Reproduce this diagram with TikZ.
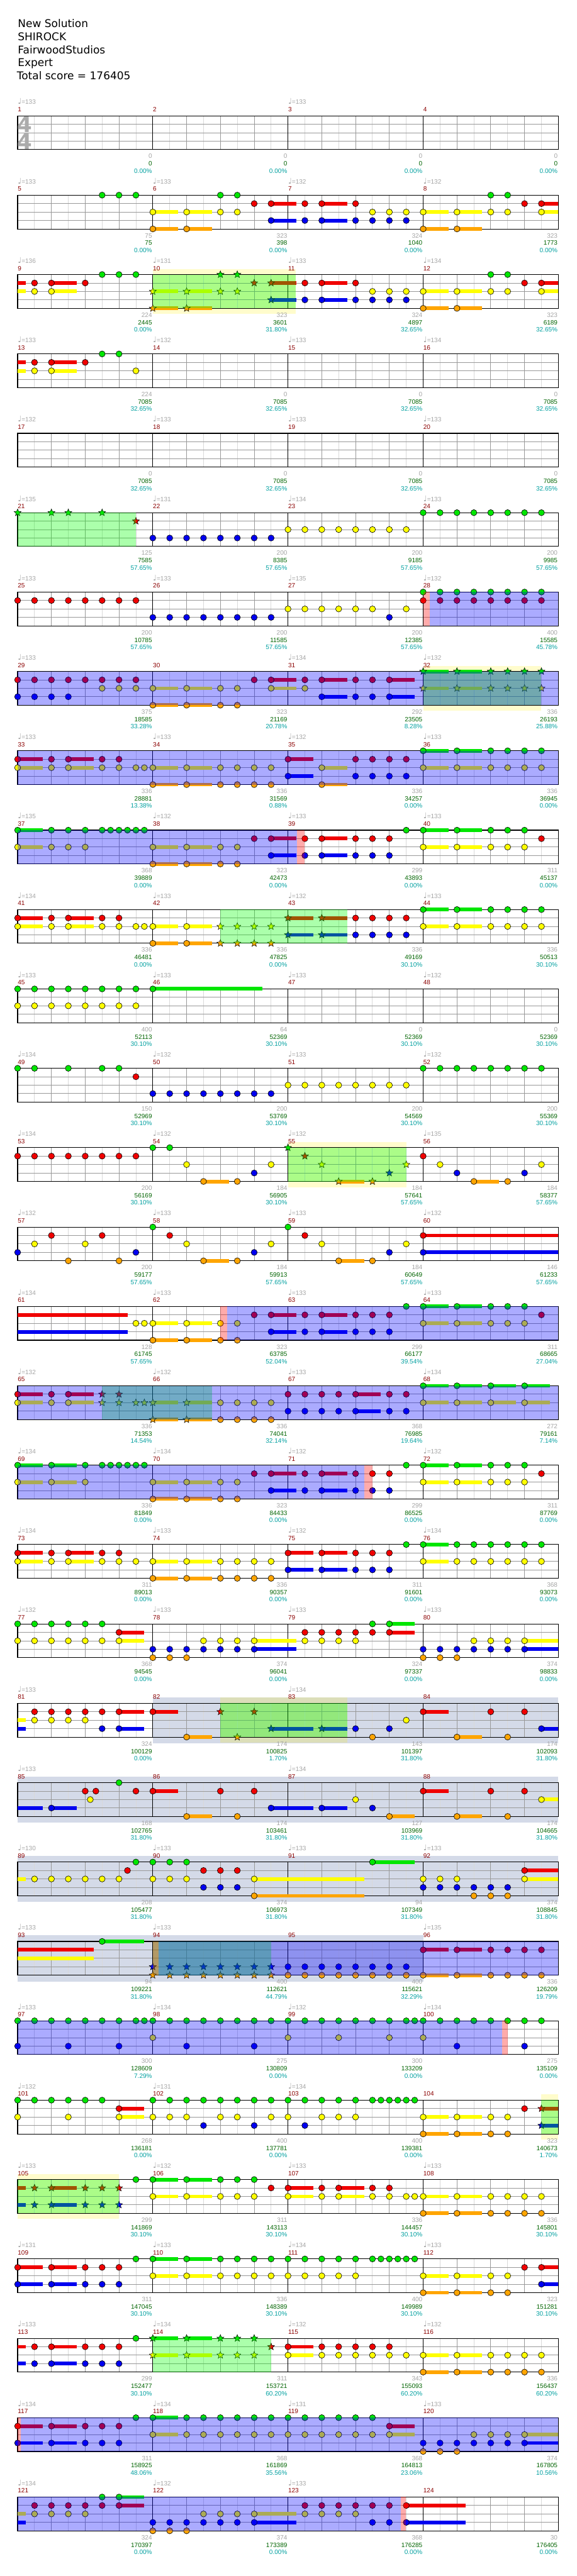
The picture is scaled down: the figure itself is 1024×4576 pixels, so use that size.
\documentclass[tikz,border=0pt]{standalone}
\usepackage{fontspec}
\setmainfont{DejaVu Sans}
\newfontfamily\labfont{Liberation Sans}
\usetikzlibrary{shapes.geometric}

\definecolor{lane0}{RGB}{0,230,0}
\definecolor{lane1}{RGB}{240,0,0}
\definecolor{lane2}{RGB}{255,255,0}
\definecolor{lane3}{RGB}{0,0,240}
\definecolor{lane4}{RGB}{255,165,0}
\definecolor{barnum}{RGB}{139,0,0}
\definecolor{softgray}{RGB}{165,165,165}
\definecolor{scoregreen}{RGB}{0,100,0}
\definecolor{pctteal}{RGB}{0,160,160}
\definecolor{solo}{RGB}{212,218,232}

% position of eighth #2 in measure #1
\newcommand\notept[2]{%
  \pgfmathsetmacro\px{31.3+240*mod(#1-1,4)+30*#2}%
  \pgfmathsetmacro\py{205.7+141*floor((#1-1)/4)}}
\newcommand\hit[2]{\foreach \e/\l in {#2}{\notept{#1}{\e}\node[note,fill=lane\l] at (\px,\py+15*\l) {};}}
\newcommand\run[4]{\foreach \e in {#3,...,#4}{\notept{#1}{\e}\node[note,fill=lane#2] at (\px,\py+15*#2) {};}}
\newcommand\hold[2]{\foreach \e/\l/\s in {#2}{\notept{#1}{\e}%
  \fill[lane\l] (\px,\py+15*\l-3.3) rectangle ++(30*\s,6.6);
  \node[note,fill=lane\l] at (\px,\py+15*\l) {};}}
\newcommand\tailbar[2]{\foreach \e/\l/\s in {#2}{\notept{#1}{\e}%
  \fill[lane\l] (\px,\py+15*\l-3.3) rectangle ++(30*\s,6.6);}}
\newcommand\sphit[2]{\foreach \e/\l in {#2}{\notept{#1}{\e}\node[spnote,fill=lane\l] at (\px,\py+15*\l) {};}}
\newcommand\sphold[2]{\foreach \e/\l/\s in {#2}{\notept{#1}{\e}%
  \fill[lane\l] (\px,\py+15*\l-3.3) rectangle ++(30*\s,6.6);
  \node[spnote,fill=lane\l] at (\px,\py+15*\l) {};}}
% style, row, x from, x to, extra height
\newcommand\zone[5]{\pgfmathsetmacro\py{205.7+141*#2}\fill[#1] (#3,\py-#5) rectangle (#4,\py+60+#5);}

\begin{document}
\begin{tikzpicture}[x=0.5pt, y=-0.5pt,
    note/.style={circle, draw=black, line width=0.35pt, minimum size=5.4pt, inner sep=0pt},
    spnote/.style={star, star points=5, star point ratio=2.3, draw=black, line width=0.3pt, minimum size=6.6pt, inner sep=0pt},
    halfln/.style={black!15, line width=0.5pt},
    beatln/.style={black!40, line width=0.5pt},
    barln/.style={black, line width=0.6pt},
    lab/.style={font=\labfont\fontsize{5.6}{6}\selectfont, inner sep=0pt},
    spzone/.style={fill=green, fill opacity=0.33},
    spband/.style={fill=yellow, fill opacity=0.2},
    actzone/.style={fill=blue, fill opacity=0.33},
    pinkzone/.style={fill=red, fill opacity=0.33},
    solozone/.style={fill=solo}]

\fill[white] (0,0) rectangle (1024,4576);
\useasboundingbox (0,0) rectangle (1024,4576);

\begin{scope}[font=\fontsize{9.5}{11}\selectfont, anchor=base west, inner sep=0pt]
  \node at (31.3,49) {New Solution};
  \node at (31.3,72) {SHIROCK};
  \node at (31.3,95.7) {FairwoodStudios};
  \node at (31.3,118.3) {Expert};
  \node at (29.5,141.7) {Total score = 176405};
\end{scope}

\zone{solozone}{20}{271.3}{991.3}{11}
\zone{solozone}{21}{31.3}{991.3}{11}
\zone{solozone}{22}{31.3}{991.3}{11}
\zone{solozone}{23}{31.3}{751.3}{11}
\zone{spband}{2}{271.3}{525.3}{10}
\zone{spband}{7}{751.3}{961.3}{10}
\zone{spband}{13}{511.3}{721.3}{10}
\zone{spband}{20}{391.3}{616.3}{10}
\zone{spband}{25}{961.3}{991.3}{10}
\zone{spband}{26}{31.3}{211.3}{10}

\foreach \r in {0,...,30}{
  \pgfmathsetmacro\py{205.7+141*\r}
  \foreach \k in {1,3,...,31} \draw[halfln] (31.3+30*\k,\py) -- ++(0,60);
  \foreach \k in {2,4,6,10,12,14,18,20,22,26,28,30} \draw[beatln] (31.3+30*\k,\py) -- ++(0,60);
  \foreach \l in {1,2,3} \draw[beatln] (31.3,\py+15*\l) -- ++(960,0);
  \foreach \k in {8,16,24} \draw[barln] (31.3+30*\k,\py) -- ++(0,60);
  \draw[barln] (31.3,\py) rectangle (991.3,\py+60);
}
\node[font=\fontsize{19}{19}\selectfont\bfseries, text=black!33] at (44,221) {4};
\node[font=\fontsize{19}{19}\selectfont\bfseries, text=black!33] at (44,251) {4};

% notes
\hit{5}{5/0,6/0,7/0}
\hold{6}{0/2/1.5,2/2/1.5,0/4/1.5,2/4/1.5,7/1/1.5,7/3/1.5}
\hit{6}{4/0,5/0,4/2,5/2,6/1}
\hold{7}{2/1/1.5,2/3/1.5}
\hit{7}{1/1,4/1,5/2,6/2,7/2,1/3,4/3,5/3,6/3,7/3}
\hold{8}{0/2/1.5,2/2/1.5,0/4/1.5,2/4/1.5,7/1/1,7/2/1}
\hit{8}{4/0,5/0,4/2,5/2,6/1}

\tailbar{9}{0/1/0.5,0/2/0.5}
\hold{9}{2/1/1.5,2/2/1.5}
\hit{9}{1/1,4/1,1/2,5/0,6/0,7/0}
\sphold{10}{0/2/1.5,0/4/1.5,2/2/1.5,2/4/1.5,7/1/1.5,7/3/1.5}
\sphit{10}{4/0,5/0,4/2,5/2,6/1}
\hold{11}{2/1/1.5,2/3/1.5}
\hit{11}{1/1,4/1,5/2,6/2,7/2,1/3,4/3,5/3,6/3,7/3}
\hold{12}{0/2/1.5,2/2/1.5,0/4/1.5,2/4/1.5,7/1/1,7/2/1}
\hit{12}{4/0,5/0,4/2,5/2,6/1}

\tailbar{13}{0/1/0.5,0/2/0.5}
\hold{13}{2/1/1.5,2/2/1.5}
\hit{13}{1/1,4/1,1/2,5/0,6/0,7/2}

\sphit{21}{0/0,2/0,3/0,5/0,7/1}
\run{22}{3}{0}{7}
\run{23}{2}{0}{7}
\run{24}{0}{0}{7}

\run{25}{1}{0}{7}
\run{26}{3}{0}{7}
\run{27}{2}{0}{5}
\hit{27}{6/3,7/2}
\run{28}{0}{0}{7}
\run{28}{1}{0}{7}

\run{29}{1}{0}{7}
\run{29}{3}{0}{3}
\hit{29}{5/2,6/2,7/2}
\hold{30}{0/2/1.5,2/2/1.5,0/4/1.5,2/4/1.5,7/1/1.5,7/2/1.5}
\hit{30}{4/2,5/2,4/4,5/4,6/1}
\hold{31}{2/1/1.5,6/1/1.5,2/3/1.5,6/3/1.5}
\hit{31}{1/1,4/1,5/1,1/2,4/3,5/3}
\sphold{32}{0/0/1.5,2/0/1.5,0/2/1.5,2/2/1.5}
\sphit{32}{4/0,5/0,6/0,7/0,4/2,5/2,6/2,7/2}

\hold{33}{0/1/1.5,3/1/1.5,0/2/1.5,3/2/1.5}
\hit{33}{2/1,5/1,6/1,2/2,5/2,6/2,7/2,7.5/2}
\hold{34}{0/2/1.5,2/2/1.5,0/4/1.5,2/4/1.5}
\hit{34}{4/2,5/2,6/2,7/2,4/4,5/4,6/4,7/4}
\hold{35}{0/1/1.5,0/3/1.5,2/2/1.5,2/4/1.5}
\hit{35}{4/1,5/1,6/1,7/1,4/3,5/3,6/3,7/3}
\hold{36}{0/0/1.5,2/0/1.5,0/2/1.5,2/2/1.5}
\hit{36}{4/0,5/0,6/0,7/0,4/2,5/2,6/2,7/2}

\hold{37}{0/0/1.5,0/2/1.5}
\hit{37}{2/0,3/0,4/0,5/0,5.5/0,6/0,6.5/0,7/0,7.5/0,2/2,3/2,4/2}
\hold{38}{0/2/1.5,2/2/1.5,0/4/1.5,2/4/1.5,7/1/1.5,7/3/1.5}
\hit{38}{4/2,5/2,4/4,5/4,6/1}
\hold{39}{2/1/1.5,2/3/1.5}
\hit{39}{1/1,4/1,5/1,6/1,1/3,4/3,5/3,6/3,7/0}
\hold{40}{0/0/1.5,2/0/1.5,0/2/1.5,2/2/1.5}
\hit{40}{4/0,5/0,6/0,4/2,5/2,6/2,7/1}

\hold{41}{0/1/1.5,3/1/1.5,0/2/1.5,3/2/1.5}
\hit{41}{2/1,5/1,6/1,2/2,5/2,6/2,7/2,7.5/2}
\hold{42}{0/2/1.5,2/2/1.5,0/4/1.5,2/4/1.5}
\sphit{42}{4/2,5/2,6/2,7/2,4/4,5/4,6/4,7/4}
\sphold{43}{0/1/1.5,2/1/1.5,0/3/1.5,2/3/1.5}
\hit{43}{4/1,5/1,6/1,7/1,4/3,5/3,6/3,7/3}
\hold{44}{0/0/1.5,2/0/1.5,0/2/1.5,2/2/1.5}
\hit{44}{4/0,5/0,6/0,7/0,4/2,5/2,6/2,7/2}

\run{45}{0}{0}{7}
\run{45}{2}{0}{7}
\hold{46}{0/0/6.5}

\hit{49}{0/0,1/0,3/0,5/0,6/0,7/1}
\run{50}{3}{0}{7}
\run{51}{2}{0}{7}
\run{52}{0}{0}{7}

\run{53}{1}{0}{7}
\hold{54}{3/4/1.5}
\hit{54}{0/0,1/0,2/2,5/4,6/3,7/2}
\sphold{55}{3/4/1.5}
\sphit{55}{0/0,1/1,2/2,5/4,6/3,7/2}
\hold{56}{3/4/1.5}
\hit{56}{0/1,1/2,2/3,5/4,6/3,7/2}

\hit{57}{0/3,1/2,2/1,3/4,4/2,5/1,6/4,7/3}
\hold{58}{3/4/1.5}
\hit{58}{0/0,1/1,2/2,5/4,6/3,7/2}
\hold{59}{3/4/1.5}
\hit{59}{0/0,1/1,2/2,5/4,6/3,7/2}
\hold{60}{0/1/8,0/3/8}

\tailbar{61}{0/1/6.5,0/3/6.5}
\hit{61}{7/2,7.5/2}
\hold{62}{0/2/1.5,2/2/1.5,0/4/1.5,2/4/1.5,7/1/1.5,7/3/1.5}
\hit{62}{4/2,5/2,4/4,5/4,6/1}
\hold{63}{2/1/1.5,2/3/1.5}
\hit{63}{1/1,4/1,5/1,6/1,1/3,4/3,5/3,6/3,7/0}
\hold{64}{0/0/1.5,2/0/1.5,0/2/1.5,2/2/1.5}
\hit{64}{4/0,5/0,6/0,4/2,5/2,6/2,7/1}

\hold{65}{0/1/1.5,3/1/1.5,0/2/1.5,3/2/1.5}
\hit{65}{2/1,2/2}
\sphit{65}{5/1,6/1,5/2,6/2,7/2,7.5/2}
\sphold{66}{0/2/1.5,2/2/1.5,0/4/1.5,2/4/1.5}
\hit{66}{4/2,5/2,6/2,7/2,4/4,5/4,6/4,7/4}
\hold{67}{4/1/1.5,4/3/1.5}
\hit{67}{0/1,1/1,2/1,3/1,6/1,7/1,0/3,1/3,2/3,3/3,6/3,7/3}
\hold{68}{0/0/1.5,2/0/1.5,4/0/1.5,6/0/1.5,0/2/1.5,2/2/1.5,4/2/1.5,6/2/1.5}

\hold{69}{0/0/1.5,2/0/1.5,0/2/1.5,2/2/1.5}
\hit{69}{4/0,5/0,5.5/0,6/0,6.5/0,7/0,7.5/0,4/2}
\hold{70}{0/2/1.5,2/2/1.5,0/4/1.5,2/4/1.5,7/1/1.5,7/3/1.5}
\hit{70}{4/2,5/2,4/4,5/4,6/1}
\hold{71}{2/1/1.5,2/3/1.5}
\hit{71}{1/1,4/1,5/1,6/1,1/3,4/3,5/3,6/3,7/0}
\hold{72}{0/0/1.5,2/0/1.5,0/2/1.5,2/2/1.5}
\hit{72}{4/0,5/0,6/0,4/2,5/2,6/2,7/1}

\hold{73}{0/1/1.5,3/1/1.5,0/2/1.5,3/2/1.5}
\hit{73}{2/1,5/1,6/1,2/2,5/2,6/2,7/2}
\hold{74}{0/2/1.5,2/2/1.5,0/4/1.5,2/4/1.5}
\hit{74}{4/2,5/2,6/2,7/2,4/4,5/4,6/4,7/4}
\hold{75}{0/1/1.5,2/1/1.5,0/3/1.5,2/3/1.5}
\hit{75}{4/1,5/1,6/1,4/3,5/3,6/3,7/0}
\hold{76}{0/0/1.5,0/2/1.5}
\hit{76}{2/0,3/0,4/0,5/0,6/0,7/0,2/2,3/2,4/2,5/2,6/2,7/2}

\run{77}{0}{0}{5}
\run{77}{2}{0}{5}
\hold{77}{6/1/1.5,6/2/1.5}
\run{78}{3}{0}{5}
\run{78}{4}{0}{2}
\run{78}{2}{3}{5}
\hold{78}{6/3/2.5,6/2/2.5}
\run{79}{1}{1}{5}
\run{79}{2}{1}{4}
\hit{79}{5/0}
\hold{79}{6/1/1.5,6/0/1.5}
\run{80}{3}{0}{5}
\run{80}{4}{0}{2}
\run{80}{2}{3}{5}
\hold{80}{6/3/2,6/2/2}

\tailbar{81}{0/2/0.5,0/3/0.5}
\run{81}{1}{1}{5}
\run{81}{2}{1}{4}
\hit{81}{5/3}
\hold{81}{6/1/1.5,6/3/1.5}
\hold{82}{0/1/1.5,2/4/1.5}
\sphit{82}{4/1,5/4,6/1}
\sphold{82}{7/3/2.5}
\sphold{83}{2/3/1.5}
\hit{83}{4/3,5/4,6/3,7/2}
\hold{84}{0/1/1.5,2/4/1.5,7/3/1}
\hit{84}{4/1,5/4,6/1}

\tailbar{85}{0/3/1.5}
\hold{85}{2/3/1.5}
\hit{85}{4/1,4.63/1,4.3/2,6/0,7/1}
\hold{86}{0/1/1.5,2/4/1.5,7/3/2.5}
\hit{86}{4/1,5/4,6/1}
\hold{87}{2/3/1.5,6/4/1.5}
\hit{87}{4/2,5/3}
\hold{88}{0/1/1.5,2/4/1.5,7/2/1}
\hit{88}{4/1,5/4,6/1}

\tailbar{89}{0/2/0.5}
\run{89}{2}{1}{6}
\hit{89}{6.5/1,7/0}
\run{90}{0}{0}{2}
\run{90}{2}{0}{2}
\run{90}{1}{3}{5}
\run{90}{3}{3}{5}
\hold{90}{6/2/6.5,6/4/6.5}
\hold{91}{5/0/2.5}
\run{92}{2}{0}{2}
\run{92}{3}{0}{5}
\run{92}{4}{3}{5}
\hold{92}{6/1/2,6/2/2}

\tailbar{93}{0/1/4.5,0/2/4.5}
\hold{93}{5/0/2.5}
\sphit{94}{0/3,1/3,2/3,3/3,4/3,5/3,6/3,7/3,0/4,1/4,2/4,3/4,4/4,5/4,6/4,7/4}
\run{95}{3}{0}{7}
\run{95}{4}{0}{7}
\hold{96}{0/1/1.5,2/1/1.5,0/4/1.5,2/4/1.5}
\hit{96}{4/1,5/1,6/1,7/1,4/4,5/4,6/4,7/4}

\run{97}{0}{0}{7}
\hit{97}{7.5/0,0/3,3/3,6/3}
\run{98}{0}{0}{7}
\hit{98}{0/2,2/3,6/3}
\run{99}{0}{0}{7}
\hit{99}{7.5/0,0/2,3/2,6/2}
\run{100}{0}{0}{7}
\hit{100}{0/2,2/3,6/3}

\run{101}{0}{0}{5}
\hit{101}{0/2,3/2}
\hold{101}{6/1/1.5,6/2/1.5}
\run{102}{0}{0}{7}
\hit{102}{0/2,1/2,2/2,4/2,5/2,7/2,3/3,6/3}
\run{103}{0}{0}{7}
\hit{103}{5.5/0,6.5/0,7.5/0,0/2,2/2,3/2,4/2,1/3}
\hold{104}{0/2/1.5,2/2/1.5,0/4/1.5,2/4/1.5}
\hit{104}{4/2,5/2,4/4,5/4,6/1}
\sphold{104}{7/1/1,7/3/1}

\tailbar{105}{0/1/0.5,0/3/0.5}
\sphold{105}{2/1/1.5,2/3/1.5}
\sphit{105}{1/1,4/1,5/1,6/1,1/3,4/3,5/3,6/3}
\hit{105}{7/0}
\hold{106}{0/0/1.5,2/0/1.5,0/2/1.5,2/2/1.5}
\hit{106}{4/0,5/0,6/0,4/2,5/2,6/2,7/1}
\hold{107}{0/1/1.5,3/1/1.5,0/2/1.5,3/2/1.5}
\hit{107}{2/1,5/1,6/1,2/2,5/2,6/2,7/2,7.5/2}
\hold{108}{0/2/1.5,2/2/1.5,0/4/1.5,2/4/1.5}
\hit{108}{4/2,5/2,6/2,7/2,4/4,5/4,6/4,7/4}

\hold{109}{0/1/1.5,2/1/1.5,0/3/1.5,2/3/1.5}
\hit{109}{4/1,5/1,6/1,4/3,5/3,6/3,7/0}
\hold{110}{0/0/1.5,2/0/1.5,0/2/1.5,2/2/1.5}
\hit{110}{4/0,5/0,6/0,7/0,4/2,5/2,6/2,7/2}
\run{111}{0}{0}{7}
\hit{111}{5.5/0,6.5/0,7.5/0}
\run{111}{2}{0}{4}
\hold{112}{0/2/1.5,2/2/1.5,0/4/1.5,2/4/1.5,7/1/1,7/3/1}
\hit{112}{4/2,5/2,4/4,5/4,6/1}

\tailbar{113}{0/1/0.5,0/3/0.5}
\hold{113}{2/1/1.5,2/3/1.5}
\hit{113}{1/1,4/1,5/1,6/1,1/3,4/3,5/3,6/3,7/0}
\sphold{114}{0/0/1.5,2/0/1.5,0/2/1.5,2/2/1.5}
\sphit{114}{4/0,5/0,6/0,4/2,5/2,6/2,7/1}
\hold{115}{0/1/1.5,0/2/1.5}
\hit{115}{2/1,3/1,4/1,5/1,6/1,2/2,3/2,4/2,5/2,6/2,7/2}
\hold{116}{0/2/1.5,2/2/1.5,0/4/1.5,2/4/1.5}
\hit{116}{4/2,5/2,6/2,7/2,4/4,5/4,6/4,7/4}

\hold{117}{0/1/1.5,2/1/1.5,0/3/1.5,2/3/1.5}
\hit{117}{4/1,5/1,6/1,4/3,5/3,6/3,7/0}
\hold{118}{0/0/1.5,0/2/1.5}
\hit{118}{2/0,3/0,4/0,5/0,6/0,7/0,2/2,3/2,4/2,5/2,6/2,7/2}
\run{119}{0}{0}{5}
\run{119}{2}{0}{5}
\hold{119}{6/1/1.5,6/2/1.5}
\run{120}{3}{0}{5}
\run{120}{4}{0}{2}
\run{120}{2}{3}{5}
\hold{120}{6/3/2,6/2/2}

\tailbar{121}{0/2/0.5,0/3/0.5}
\run{121}{1}{1}{5}
\run{121}{2}{1}{4}
\hit{121}{5/0}
\hold{121}{6/1/1.5,6/0/1.5}
\run{122}{3}{0}{5}
\run{122}{4}{0}{2}
\run{122}{2}{3}{5}
\hold{122}{6/3/2.5,6/2/2.5}
\run{123}{1}{1}{6}
\run{123}{2}{1}{4}
\hit{123}{5/3,6/3}
\hold{123}{7/1/3.5,7/3/3.5}

% star power and activation
\zone{spzone}{2}{271.3}{525.3}{0}
\zone{spzone}{5}{31.3}{241.3}{0}
\zone{spzone}{7}{751.3}{961.3}{0}
\zone{spzone}{10}{391.3}{616.3}{0}
\zone{spzone}{13}{511.3}{721.3}{0}
\zone{spzone}{16}{181.3}{376.3}{0}
\zone{spzone}{20}{391.3}{616.3}{0}
\zone{spzone}{23}{271.3}{481.3}{0}
\zone{spzone}{25}{961.3}{991.3}{0}
\zone{spzone}{26}{31.3}{211.3}{0}
\zone{spzone}{28}{271.3}{481.3}{0}

\zone{actzone}{6}{763}{991.3}{0}
\zone{actzone}{7}{31.3}{991.3}{0}
\zone{actzone}{8}{31.3}{991.3}{0}
\zone{actzone}{9}{31.3}{527}{0}
\zone{actzone}{15}{403}{991.3}{0}
\zone{actzone}{16}{31.3}{991.3}{0}
\zone{actzone}{17}{31.3}{647}{0}
\zone{actzone}{23}{281}{991.3}{0}
\zone{actzone}{24}{31.3}{891}{0}
\zone{actzone}{29}{37}{991.3}{0}
\zone{actzone}{30}{31.3}{712}{0}

\zone{pinkzone}{6}{751.3}{763}{0}
\zone{pinkzone}{9}{527}{541}{0}
\zone{pinkzone}{15}{391.3}{403}{0}
\zone{pinkzone}{17}{647}{661}{0}
\zone{pinkzone}{23}{271.3}{281}{0}
\zone{pinkzone}{24}{891}{901}{0}
\zone{pinkzone}{29}{31.3}{37}{0}
\zone{pinkzone}{30}{712}{721}{0}

% labels
\foreach \m in {1,...,124}{
  \notept{\m}{0}
  \node[lab, text=barnum, anchor=base west] at (\px,\py-7.3) {\m};
}
\foreach \m/\t in {1/133,3/133,5/133,6/133,7/132,8/132,9/136,10/131,11/133,12/134,13/133,14/132,15/133,16/134,
    17/132,18/133,19/133,20/133,21/135,22/131,23/134,24/133,25/133,26/133,27/135,28/132,29/133,31/134,32/132,
    33/133,34/133,35/132,36/133,37/135,38/132,39/133,40/133,41/134,42/133,43/132,44/133,45/133,46/133,47/133,48/132,
    49/134,50/132,51/133,52/132,53/134,54/132,55/132,56/135,57/132,58/133,59/133,60/132,61/134,62/133,63/133,64/133,
    65/132,66/132,67/133,68/134,69/134,70/134,71/132,72/132,73/134,74/133,75/132,76/134,77/132,78/133,79/133,80/133,
    81/133,83/134,85/133,87/134,89/130,90/133,91/133,92/133,93/133,94/133,96/135,97/133,98/134,99/132,100/134,
    101/132,102/131,103/134,105/133,106/132,107/133,108/133,109/131,110/133,111/134,112/133,113/133,114/134,115/132,116/132,
    117/134,118/134,119/131,120/133,121/134,122/132,123/133}{
  \notept{\m}{0}
  \node[lab, text=softgray, anchor=base west] at (\px,\py-20.3) {{\rmfamily\fontsize{7}{7}\selectfont ♩}=\t};
}
\foreach \m/\a/\b/\c in {1/0/0/0.00,2/0/0/0.00,3/0/0/0.00,4/0/0/0.00,
    5/75/75/0.00,6/323/398/0.00,7/324/1040/0.00,8/323/1773/0.00,
    9/224/2445/0.00,10/323/3601/31.80,11/324/4897/32.65,12/323/6189/32.65,
    13/224/7085/32.65,14/0/7085/32.65,15/0/7085/32.65,16/0/7085/32.65,
    17/0/7085/32.65,18/0/7085/32.65,19/0/7085/32.65,20/0/7085/32.65,
    21/125/7585/57.65,22/200/8385/57.65,23/200/9185/57.65,24/200/9985/57.65,
    25/200/10785/57.65,26/200/11585/57.65,27/200/12385/57.65,28/400/15585/45.78,
    29/375/18585/33.28,30/323/21169/20.78,31/292/23505/8.28,32/336/26193/25.88,
    33/336/28881/13.38,34/336/31569/0.88,35/336/34257/0.00,36/336/36945/0.00,
    37/368/39889/0.00,38/323/42473/0.00,39/299/43893/0.00,40/311/45137/0.00,
    41/336/46481/0.00,42/336/47825/0.00,43/336/49169/30.10,44/336/50513/30.10,
    45/400/52113/30.10,46/64/52369/30.10,47/0/52369/30.10,48/0/52369/30.10,
    49/150/52969/30.10,50/200/53769/30.10,51/200/54569/30.10,52/200/55369/30.10,
    53/200/56169/30.10,54/184/56905/30.10,55/184/57641/57.65,56/184/58377/57.65,
    57/200/59177/57.65,58/184/59913/57.65,59/184/60649/57.65,60/146/61233/57.65,
    61/128/61745/57.65,62/323/63785/52.04,63/299/66177/39.54,64/311/68665/27.04,
    65/336/71353/14.54,66/336/74041/32.14,67/368/76985/19.64,68/272/79161/7.14,
    69/336/81849/0.00,70/323/84433/0.00,71/299/86525/0.00,72/311/87769/0.00,
    73/311/89013/0.00,74/336/90357/0.00,75/311/91601/0.00,76/368/93073/0.00,
    77/368/94545/0.00,78/374/96041/0.00,79/324/97337/0.00,80/374/98833/0.00,
    81/324/100129/0.00,82/174/100825/1.70,83/143/101397/31.80,84/174/102093/31.80,
    85/168/102765/31.80,86/174/103461/31.80,87/127/103969/31.80,88/174/104665/31.80,
    89/208/105477/31.80,90/374/106973/31.80,91/94/107349/31.80,92/374/108845/31.80,
    93/94/109221/31.80,94/400/112621/44.79,95/400/115621/32.29,96/336/126209/19.79,
    97/300/128609/7.29,98/275/130809/0.00,99/300/133209/0.00,100/275/135109/0.00,
    101/268/136181/0.00,102/400/137781/0.00,103/400/139381/0.00,104/323/140673/1.70,
    105/299/141869/30.10,106/311/143113/30.10,107/336/144457/30.10,108/336/145801/30.10,
    109/311/147045/30.10,110/336/148389/30.10,111/400/149989/30.10,112/323/151281/30.10,
    113/299/152477/30.10,114/311/153721/60.20,115/343/155093/60.20,116/336/156437/60.20,
    117/311/158925/48.06,118/368/161869/35.56,119/368/164813/23.06,120/374/167805/10.56,
    121/324/170397/0.00,122/374/173389/0.00,123/368/176285/0.00,124/30/176405/0.00}{
  \notept{\m}{8}
  \node[lab, text=softgray, anchor=base east] at (\px-1,\py+75.7) {\a};
  \node[lab, text=scoregreen, anchor=base east] at (\px-1,\py+89) {\b};
  \node[lab, text=pctteal, anchor=base east] at (\px-1,\py+101.7) {\c\%};
}
\end{tikzpicture}
\end{document}
